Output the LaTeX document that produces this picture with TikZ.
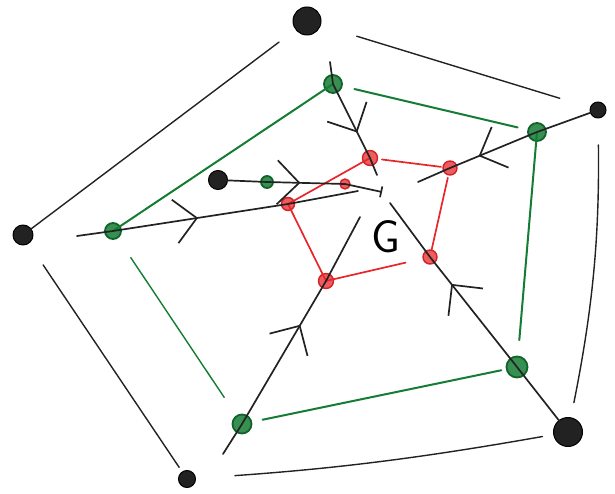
\documentclass[tikz,border=0pt]{standalone}
\usepackage{tikz}
\usetikzlibrary{arrows.meta,decorations.markings}
\definecolor{inkK}{RGB}{34,34,34}
\definecolor{inkG}{RGB}{20,124,52}
\definecolor{inkR}{RGB}{232,38,42}

\begin{document}
\begin{tikzpicture}[x=1pt,y=-1pt,line cap=round,line join=round,
  dotK/.style={circle,inner sep=0pt,minimum size=#1,fill=inkK,draw=black,line width=1pt},
  dotG/.style={circle,inner sep=0pt,minimum size=#1,fill=inkG!85,draw=inkG!80!black,line width=1.8pt},
  dotR/.style={circle,inner sep=0pt,minimum size=#1,fill=inkR!75,draw=inkR!90!black,line width=1.4pt},
  rimK/.style={inkK,line width=1.4pt},
  rimG/.style={inkG,line width=2pt},
  rimR/.style={inkR,line width=1.7pt},
  spoke/.style={inkK,line width=1.7pt,postaction={decorate},
    decoration={markings,mark=at position #1 with {\arrow{Straight Barb[length=22pt,width=44pt]}}}}]
\useasboundingbox (0,0) rectangle (615,494);
% outer corners (black), middle ring (green), inner ring (red)
\node[dotK=28pt] (KT) at (307,21) {};
\node[dotK=16pt] (KR) at (598,110) {};
\node[dotK=29pt] (KBR) at (568,432) {};
\node[dotK=17pt] (KBL) at (187,479) {};
\node[dotK=20pt] (KL) at (23,235) {};
\node[dotK=19pt] (B) at (218,180) {};
\node[dotG=18pt] (GT) at (333,84) {};
\node[dotG=18pt] (GR) at (537,132) {};
\node[dotG=21pt] (GBR) at (517,367) {};
\node[dotG=19pt] (GBL) at (242,424) {};
\node[dotG=16pt] (GL) at (113,231) {};
\node[dotG=12pt] (GM) at (267,182) {};
\node[dotR=15pt] (RT) at (370,158) {};
\node[dotR=14pt] (RR) at (450,168) {};
\node[dotR=14pt] (RBR) at (430,257) {};
\node[dotR=15pt] (RBL) at (326,281) {};
\node[dotR=13pt] (RL) at (288,204) {};
\node[dotR=10pt] (RM) at (345,184) {};
\coordinate (tT) at (330,62); \coordinate (cT) at (377,175);
\coordinate (cR) at (418,182); \coordinate (cBR) at (390,203);
\coordinate (tBL) at (223,454); \coordinate (cBL) at (360,217);
\coordinate (tL) at (77,236); \coordinate (cL) at (358,191);
\coordinate (cM) at (382,192);
% black frame
\draw[rimK,shorten <=35pt,shorten >=10pt] (KT.center) -- (KL.center);
\draw[rimK,shorten <=36pt,shorten >=14pt] (KL.center) -- (KBL.center);
\draw[rimK,shorten <=48pt,shorten >=26pt] (KBL.center) to[bend right=3] (KBR.center);
\draw[rimK,shorten <=30pt,shorten >=35pt] (KBR.center) to[bend right=6] (KR.center);
\draw[rimK,shorten <=40pt,shorten >=52pt] (KR.center) -- (KT.center);
% green frame
\draw[rimG] (GT.center) -- (GL.center);
\draw[rimG,line width=1.4pt,shorten <=32pt,shorten >=32pt] (GL.center) -- (GBL.center);
\draw[rimG,shorten <=21pt,shorten >=16pt] (GBL.center) -- (GBR.center);
\draw[rimG,shorten <=27pt] (GBR.center) -- (GR.center);
\draw[rimG,shorten <=20pt,shorten >=22pt] (GR.center) -- (GT.center);
% red frame
\draw[rimR,shorten <=12pt,shorten >=9pt] (RT.center) -- (RR.center);
\draw[rimR,shorten <=10pt,shorten >=7pt] (RR.center) -- (RBR.center);
\draw[rimR,shorten <=25pt] (RBR.center) -- (RBL.center);
\draw[rimR] (RBL.center) -- (RL.center) -- (RT.center);
% spokes into the middle
\draw[spoke=0.62] (tT) -- (GT.center) -- (RT.center) -- (cT);
\draw[spoke=0.66] (KR.center) -- (GR.center) -- (RR.center) -- (cR);
\draw[spoke=0.65] (KBR.center) -- (GBR.center) -- (RBR.center) -- (cBR);
\draw[spoke=0.55] (tBL) -- (GBL.center) -- (RBL.center) -- (cBL);
\draw[spoke=0.43] (tL) -- (GL.center) -- (RL.center) -- (cL);
\draw[spoke=0.5,-{Bar[width=11pt]}] (B.center) -- (GM.center) -- (RM.center) -- (cM);
\node[font=\fontsize{46}{46}\selectfont\sffamily] (lblG) at (386,237) {G};
\end{tikzpicture}
\end{document}
